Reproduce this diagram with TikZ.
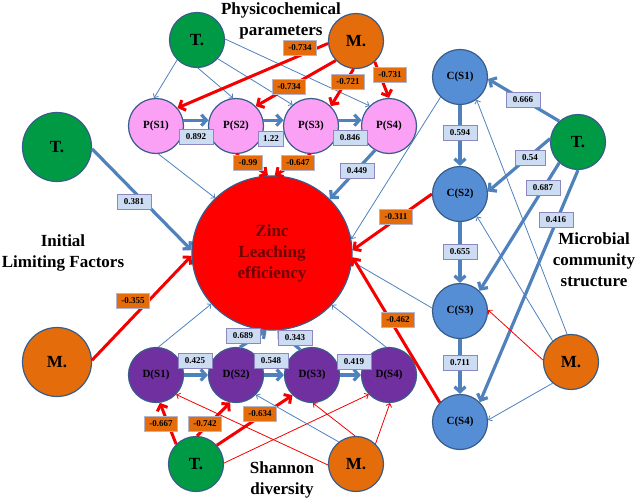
\documentclass[tikz,border=0pt]{standalone}
\usepackage{fontspec}
\setmainfont{Liberation Serif}
\usetikzlibrary{arrows.meta,shapes.geometric}
\definecolor{cgreen}{RGB}{0,153,68}
\definecolor{corange}{RGB}{228,108,10}
\definecolor{cpink}{RGB}{250,160,245}
\definecolor{cpurple}{RGB}{112,48,160}
\definecolor{cblue}{RGB}{85,142,213}
\definecolor{cborder}{RGB}{56,93,138}
\definecolor{cline}{RGB}{79,129,189}
\definecolor{cred}{RGB}{245,0,0}
\definecolor{lbfill}{RGB}{204,220,242}
\definecolor{lbborder}{RGB}{140,135,190}
\definecolor{loborder}{RGB}{180,180,205}
\definecolor{zinctext}{RGB}{110,0,0}
\begin{document}
\begin{tikzpicture}[x=1pt,y=-1pt,
  small/.style={circle,draw=cborder,line width=1.2pt,minimum size=55pt,inner sep=0pt,font=\bfseries\fontsize{11}{11}\selectfont},
  fac/.style={small,font=\bfseries\fontsize{17}{17}\selectfont},
  bigfac/.style={fac,minimum size=69pt},
  head/.style={align=center,font=\bfseries\fontsize{17}{21}\selectfont},
  bthick/.style={draw=cline,line width=3.2pt,-{Straight Barb[length=5pt,width=11pt]}},
  rthick/.style={draw=cred,line width=3pt,-{Straight Barb[length=5pt,width=11pt]}},
  bthin/.style={draw=cline,line width=0.8pt,-{Straight Barb[length=3pt,width=6pt]}},
  rthin/.style={draw=cred,line width=0.8pt,-{Straight Barb[length=3pt,width=6pt]}},
  lb/.style={draw=lbborder,fill=lbfill,line width=0.7pt,inner xsep=7pt,inner ysep=0pt,minimum height=15pt,font=\bfseries\fontsize{9}{9}\selectfont},
  lo/.style={draw=loborder,fill=corange,line width=0.7pt,inner xsep=5pt,inner ysep=0pt,minimum height=15pt,font=\bfseries\fontsize{9}{9}\selectfont}
]
\useasboundingbox (0,0) rectangle (638,501);
% headings
\node[head] (h1) at (281,21) {Physicochemical\\parameters};
\node[head] (h2) at (63,253) {Initial\\Limiting Factors};
\node[head] (h3) at (594,260) {Microbial\\community\\structure};
\node[head] (h4) at (282,480) {Shannon\\diversity};
% nodes
\node[fac,fill=cgreen] (T1) at (197,40) {T.};
\node[fac,fill=corange] (M1) at (356,41) {M.};
\node[small,fill=cpink] (P1) at (156,126) {P(S1)};
\node[small,fill=cpink] (P2) at (236,126) {P(S2)};
\node[small,fill=cpink] (P3) at (311,126) {P(S3)};
\node[small,fill=cpink] (P4) at (389,126) {P(S4)};
\node[bigfac,fill=cgreen] (TL) at (57,147) {T.};
\node[bigfac,fill=corange] (ML) at (57,362) {M.};
\node[ellipse,draw=cborder,line width=1.2pt,fill=red,minimum width=160pt,minimum height=154pt,inner sep=0pt,
      text=zinctext,align=center,font=\bfseries\fontsize{17}{21}\selectfont] (Z) at (272,253) {Zinc\\Leaching\\efficiency};
\node[small,fill=cpurple] (D1) at (156,375) {D(S1)};
\node[small,fill=cpurple] (D2) at (236,375) {D(S2)};
\node[small,fill=cpurple] (D3) at (312,375) {D(S3)};
\node[small,fill=cpurple] (D4) at (389,375) {D(S4)};
\node[fac,fill=cgreen] (T3) at (196,464) {T.};
\node[fac,fill=corange] (M3) at (356,464) {M.};
\node[small,fill=cblue] (C1) at (460,77) {C(S1)};
\node[small,fill=cblue] (C2) at (460,194) {C(S2)};
\node[small,fill=cblue] (C3) at (460,311) {C(S3)};
\node[small,fill=cblue] (C4) at (460,422) {C(S4)};
\node[fac,fill=cgreen] (TR) at (578,142) {T.};
\node[fac,fill=corange] (MR) at (571,362) {M.};
% physicochemical
\draw[bthin] (T1.225) -- (P1.94);
\draw[bthin] (T1.272) -- (P2.96);
\draw[bthin] (T1.-42) -- (P3.131);
\draw[bthin] (T1.2) -- (P4.134);
\draw[rthick] (M1.185) -- (P1.40);
\draw[rthick] (M1.224) -- (P2.45);
\draw[rthick] (M1.265) -- (P3.45);
\draw[rthick] (M1.-48) -- (P4.90);
\draw[bthick] (P1.12) -- (P2.168);
\draw[bthick] (P2.12) -- (P3.168);
\draw[bthick] (P3.12) -- (P4.168);
\draw[bthin] (P1.-85) -- (Z.136);
\draw[rthick] (P2.-90) -- (Z.93);
\draw[rthick] (P3.-90) -- (Z.88);
\draw[bthick] (P4.-120) -- (Z.43);
% initial
\draw[bthick] (TL.-3) -- (Z.178);
\draw[rthick] (ML.3) -- (Z.182);
% shannon
\draw[bthin] (D1.85) -- (Z.220);
\draw[bthick] (D2.82) -- (Z.266);
\draw[bthick] (D3.115) -- (Z.274);
\draw[bthin] (D4.96) -- (Z.319);
\draw[bthick] (D1) -- (D2);
\draw[bthick] (D2) -- (D3);
\draw[bthick] (D3) -- (D4);
\draw[rthick] (T3.135) -- (D1.278);
\draw[rthick] (T3.88) -- (D2.258);
\draw[rthick] (T3.42) -- (D3.226);
\draw[rthin] (T3.2) -- (D4.224);
\draw[rthin] (M3.182) -- (D1.316);
\draw[bthin] (M3.128) -- (D2.315);
\draw[rthin] (M3.92) -- (D3.272);
\draw[rthin] (M3.46) -- (D4.272);
% microbial
\draw[bthick] (C1) -- (C2);
\draw[bthick] (C2) -- (C3);
\draw[bthick] (C3) -- (C4);
\draw[bthin] (C1.226) -- (Z.10);
\draw[rthick] (C2.180) -- (Z.2);
\draw[bthin] (C3.174) -- (Z.-6);
\draw[rthick] (C4.136) -- (Z.-3);
\draw[bthick] (TR.132) -- (C1.-4);
\draw[bthick] (TR.173) -- (C2.5);
\draw[bthick] (TR.228) -- (C3.46);
\draw[bthick] (TR.270) -- (C4.45);
\draw[bthin] (MR.98) -- (C1.306);
\draw[bthin] (MR.131) -- (C2.307);
\draw[rthin] (MR.176) -- (C3.2);
\draw[bthin] (MR.229) -- (C4.4);
% labels
\node[lo] (l1) at (300,48) {-0.734};
\node[lo] (l2) at (289,87) {-0.734};
\node[lo] (l3) at (348,82) {-0.721};
\node[lo] (l4) at (390,75) {-0.731};
\node[lb] (l5) at (196,137) {0.892};
\node[lb,inner xsep=4.5pt] (l6) at (271,139) {1.22};
\node[lb] (l7) at (350,138) {0.846};
\node[lo] (l8) at (248,163) {-0.99};
\node[lo] (l9) at (298,163) {-0.647};
\node[lb] (l10) at (357,171) {0.449};
\node[lb] (l11) at (134,202) {0.381};
\node[lo] (l12) at (133,301) {-0.355};
\node[lb] (l13) at (243,336) {0.689};
\node[lb] (l14) at (295,338) {0.343};
\node[lb] (l15) at (195,361) {0.425};
\node[lb] (l16) at (271,361) {0.548};
\node[lb] (l17) at (354,362) {0.419};
\node[lo] (l18) at (161,424) {-0.667};
\node[lo] (l19) at (205,424) {-0.742};
\node[lo] (l20) at (260,414) {-0.634};
\node[lb] (l21) at (460,133) {0.594};
\node[lb] (l22) at (460,252) {0.655};
\node[lb] (l23) at (460,363) {0.711};
\node[lb] (l24) at (523,100) {0.666};
\node[lb] (l25) at (530,158) {0.54};
\node[lb] (l26) at (543,188) {0.687};
\node[lb] (l27) at (556,220) {0.416};
\node[lo] (l28) at (396,217) {-0.311};
\node[lo] (l29) at (398,320) {-0.462};
\end{tikzpicture}
\end{document}
